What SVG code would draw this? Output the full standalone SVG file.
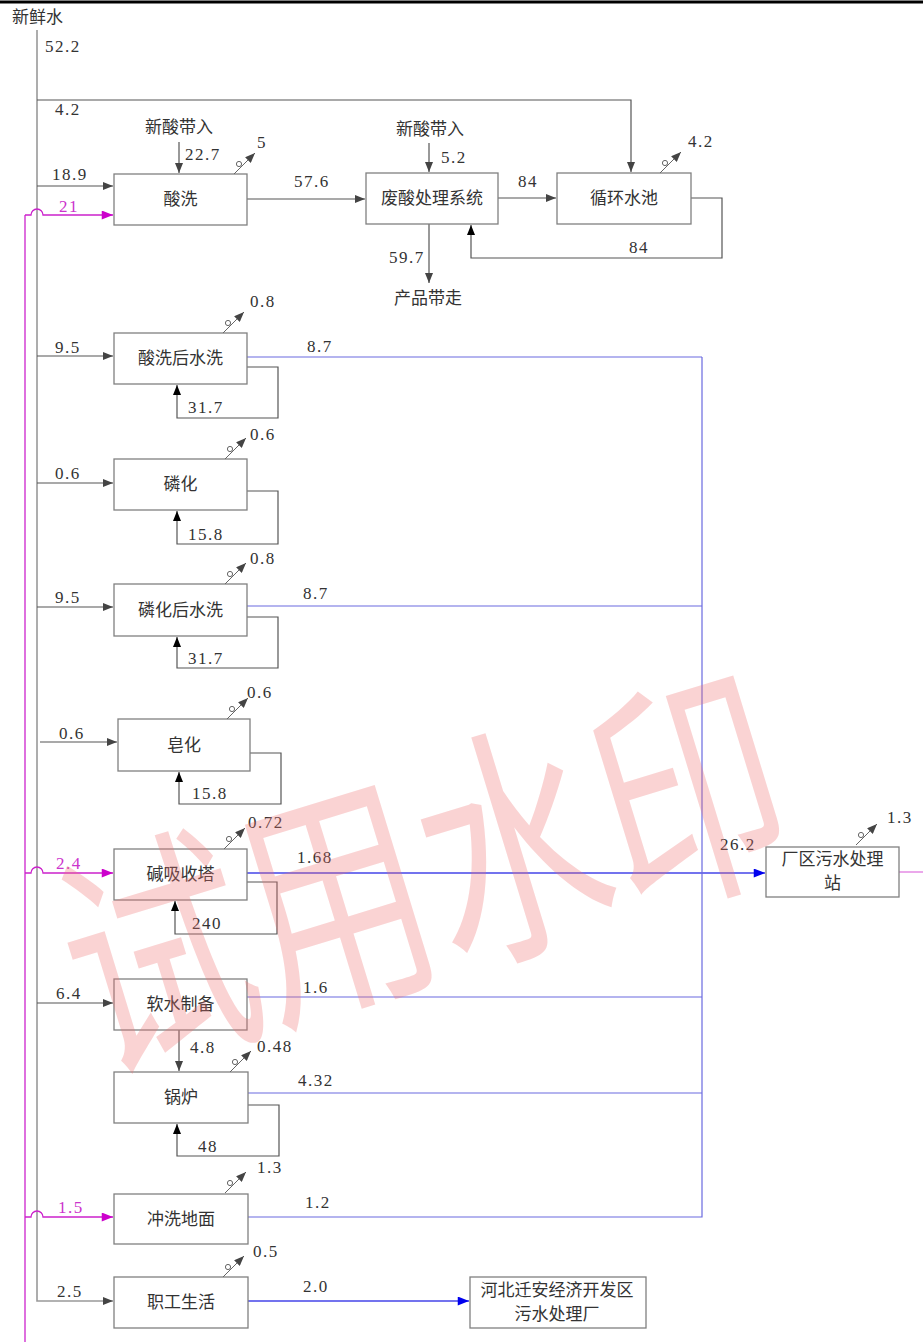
<svg xmlns="http://www.w3.org/2000/svg" width="923" height="1342" viewBox="0 0 923 1342">
<style>
.box{fill:none;stroke:#808080;stroke-width:1.3}
.ln{fill:none;stroke:#555;stroke-width:1.2}
.main{fill:none;stroke:#999;stroke-width:1.6}
.mg{fill:none;stroke:#cc22cc;stroke-width:1.3}
.bl{fill:none;stroke:#6a6ae0;stroke-width:1.2}
.bl2{fill:none;stroke:#4444e8;stroke-width:1.3}
.ev{fill:none;stroke:#666;stroke-width:1}
.cn{font-family:"Noto Sans CJK SC","Noto Sans CJK TC",sans-serif;font-size:17px;fill:#333}
.num{font-family:"Liberation Serif",serif;font-size:17px;letter-spacing:1.5px;fill:#333}
.nm{font-family:"Liberation Serif",serif;font-size:17px;letter-spacing:1.5px;fill:#cc33cc}
.wm{font-family:"Noto Sans CJK SC",sans-serif;font-size:185px;fill:#f07070;opacity:0.3}
</style>
<defs>
<marker id="ag" viewBox="0 0 10 8" refX="10" refY="4" markerWidth="11" markerHeight="8" markerUnits="userSpaceOnUse" orient="auto"><path d="M0,0 L10,4 L0,8 z" fill="#444"/></marker>
<marker id="ak" viewBox="0 0 10 8" refX="10" refY="4" markerWidth="11" markerHeight="8" markerUnits="userSpaceOnUse" orient="auto"><path d="M0,0 L10,4 L0,8 z" fill="#000"/></marker>
<marker id="am" viewBox="0 0 10 8" refX="10" refY="4" markerWidth="12" markerHeight="9" markerUnits="userSpaceOnUse" orient="auto"><path d="M0,0 L10,4 L0,8 z" fill="#cc00cc"/></marker>
<marker id="ab" viewBox="0 0 10 8" refX="10" refY="4" markerWidth="12" markerHeight="9" markerUnits="userSpaceOnUse" orient="auto"><path d="M0,0 L10,4 L0,8 z" fill="#0000ee"/></marker>
<g id="evap"><line class="ev" x1="0" y1="0" x2="21" y2="-21" marker-end="url(#ag)"/><circle class="ev" cx="5" cy="-10" r="2.6"/></g>
</defs>

<rect x="0" y="0" width="923" height="1342" fill="#fff"/>
<line x1="0" y1="2" x2="923" y2="2" stroke="#000" stroke-width="3"/>
<text class="cn" x="12" y="23">新鲜水</text>

<g id="connectors">
<path class="main" d="M37,30 V1301 H113" marker-end="url(#ag)"/>
<path class="mg" d="M25,1342 V215"/>
<path class="ln" d="M37,100 H631 V172" marker-end="url(#ag)"/>
<path class="ln" d="M37,186 H113" marker-end="url(#ag)"/>
<path class="mg" d="M25,215 H31 A6,6 0 0 1 43,215 H113" marker-end="url(#am)"/>
<path class="ln" d="M179,142 V173" marker-end="url(#ag)"/>
<path class="ln" d="M247,199 H365" marker-end="url(#ag)"/>
<path class="ln" d="M429,143 V172" marker-end="url(#ag)"/>
<path class="ln" d="M429,224 V283" marker-end="url(#ag)"/>
<path class="ln" d="M498,198 H556" marker-end="url(#ag)"/>
<path class="ln" d="M691,198 H722 V258 H471 V225" marker-end="url(#ak)"/>

<path class="ln" d="M37,356 H113" marker-end="url(#ag)"/>
<path class="bl" d="M247,357 H702"/>
<path class="ln" d="M247,367 H278 V418 H177 V385" marker-end="url(#ak)"/>

<path class="ln" d="M37,483 H113" marker-end="url(#ag)"/>
<path class="ln" d="M247,491 H278 V544 H177 V511" marker-end="url(#ak)"/>

<path class="ln" d="M37,607 H113" marker-end="url(#ag)"/>
<path class="bl" d="M247,606 H702"/>
<path class="ln" d="M247,617 H278 V668 H177 V637" marker-end="url(#ak)"/>

<path class="ln" d="M40,742 H117" marker-end="url(#ag)"/>
<path class="ln" d="M250,753 H281 V804 H179 V772" marker-end="url(#ak)"/>

<path class="mg" d="M25,873 H31 A6,6 0 0 1 43,873 H113" marker-end="url(#am)"/>
<path class="bl2" d="M247,873 H765" marker-end="url(#ab)"/>
<path class="ln" d="M247,882 H277 V934 H175 V901" marker-end="url(#ak)"/>
<path class="mg" d="M899,872 H923" stroke-opacity="0.6"/>

<path class="ln" d="M37,1003 H113" marker-end="url(#ag)"/>
<path class="bl" d="M247,997 H702"/>
<path class="ln" d="M179,1030 V1071" marker-end="url(#ag)"/>

<path class="bl" d="M248,1093 H702"/>
<path class="ln" d="M248,1105 H279 V1156 H177 V1124" marker-end="url(#ak)"/>

<path class="mg" d="M25,1217 H31 A6,6 0 0 1 43,1217 H113" marker-end="url(#am)"/>
<path class="bl" d="M248,1217 H702 V357"/>

<path class="bl2" d="M248,1301 H469" marker-end="url(#ab)"/>
</g>

<g id="n-suanxi"><rect class="box" x="114" y="174" width="133" height="51"/><text class="cn" x="180.5" y="205" text-anchor="middle">酸洗</text>
<use href="#evap" x="234" y="174"/><text class="num" x="257" y="148">5</text></g>
<g id="n-feisuan"><rect class="box" x="366" y="173" width="132" height="51"/><text class="cn" x="432" y="204" text-anchor="middle">废酸处理系统</text></g>
<g id="n-xunhuan"><rect class="box" x="557" y="173" width="134" height="51"/><text class="cn" x="624" y="204" text-anchor="middle">循环水池</text>
<use href="#evap" x="660" y="173"/><text class="num" x="688" y="147">4.2</text></g>
<g id="n-chanpin"><text class="cn" x="428" y="304" text-anchor="middle">产品带走</text></g>
<g id="n-xinsuan1"><text class="cn" x="179" y="133" text-anchor="middle">新酸带入</text></g>
<g id="n-xinsuan2"><text class="cn" x="430" y="135" text-anchor="middle">新酸带入</text></g>

<g id="n-suanxihou"><rect class="box" x="114" y="333" width="133" height="51"/><text class="cn" x="180.5" y="364" text-anchor="middle">酸洗后水洗</text>
<use href="#evap" x="223" y="333"/><text class="num" x="250" y="307">0.8</text></g>
<g id="n-linhua"><rect class="box" x="114" y="459" width="133" height="51"/><text class="cn" x="180.5" y="490" text-anchor="middle">磷化</text>
<use href="#evap" x="225" y="459"/><text class="num" x="250" y="440">0.6</text></g>
<g id="n-linhuahou"><rect class="box" x="114" y="584" width="133" height="52"/><text class="cn" x="180.5" y="616" text-anchor="middle">磷化后水洗</text>
<use href="#evap" x="225" y="584"/><text class="num" x="250" y="564">0.8</text></g>
<g id="n-zaohua"><rect class="box" x="118" y="719" width="132" height="52"/><text class="cn" x="184" y="751" text-anchor="middle">皂化</text>
<use href="#evap" x="227" y="719"/><text class="num" x="247" y="698">0.6</text></g>
<g id="n-jianxi"><rect class="box" x="114" y="849" width="133" height="51"/><text class="cn" x="180.5" y="880" text-anchor="middle">碱吸收塔</text>
<use href="#evap" x="224" y="849"/><text class="num" x="248" y="828">0.72</text></g>
<g id="n-changqu"><rect class="box" x="766" y="847" width="133" height="50"/><text class="cn" x="832.5" y="865" text-anchor="middle" font-size="16">厂区污水处理</text><text class="cn" x="832.5" y="889" text-anchor="middle" font-size="16">站</text>
<use href="#evap" x="856" y="845"/><text class="num" x="887" y="823">1.3</text></g>
<g id="n-ruanshui"><rect class="box" x="114" y="979" width="133" height="51"/><text class="cn" x="180.5" y="1010" text-anchor="middle">软水制备</text></g>
<g id="n-guolu"><rect class="box" x="114" y="1072" width="134" height="51"/><text class="cn" x="181" y="1103" text-anchor="middle">锅炉</text>
<use href="#evap" x="230" y="1072"/><text class="num" x="257" y="1052">0.48</text></g>
<g id="n-chongxi"><rect class="box" x="114" y="1194" width="134" height="50"/><text class="cn" x="181" y="1225" text-anchor="middle">冲洗地面</text>
<use href="#evap" x="225" y="1193"/><text class="num" x="257" y="1173">1.3</text></g>
<g id="n-zhigong"><rect class="box" x="114" y="1277" width="134" height="51"/><text class="cn" x="181" y="1308" text-anchor="middle">职工生活</text>
<use href="#evap" x="223" y="1277"/><text class="num" x="253" y="1257">0.5</text></g>
<g id="n-hebei"><rect class="box" x="470" y="1277" width="176" height="51"/><text class="cn" x="557" y="1296" text-anchor="middle" font-size="16">河北迁安经济开发区</text><text class="cn" x="557" y="1320" text-anchor="middle" font-size="16">污水处理厂</text></g>

<g id="labels">
<text class="num" x="45" y="52">52.2</text>
<text class="num" x="55" y="115">4.2</text>
<text class="num" x="52" y="180">18.9</text>
<text class="nm" x="59" y="212">21</text>
<text class="num" x="185" y="160">22.7</text>
<text class="num" x="294" y="187">57.6</text>
<text class="num" x="441" y="163">5.2</text>
<text class="num" x="389" y="263">59.7</text>
<text class="num" x="518" y="187">84</text>
<text class="num" x="629" y="253">84</text>
<text class="num" x="55" y="353">9.5</text>
<text class="num" x="307" y="352">8.7</text>
<text class="num" x="188" y="413">31.7</text>
<text class="num" x="55" y="479">0.6</text>
<text class="num" x="188" y="540">15.8</text>
<text class="num" x="55" y="603">9.5</text>
<text class="num" x="303" y="599">8.7</text>
<text class="num" x="188" y="664">31.7</text>
<text class="num" x="59" y="739">0.6</text>
<text class="num" x="192" y="799">15.8</text>
<text class="nm" x="56" y="869">2.4</text>
<text class="num" x="297" y="863">1.68</text>
<text class="num" x="192" y="929">240</text>
<text class="num" x="720" y="850">26.2</text>
<text class="num" x="56" y="999">6.4</text>
<text class="num" x="303" y="993">1.6</text>
<text class="num" x="190" y="1053">4.8</text>
<text class="num" x="298" y="1086">4.32</text>
<text class="num" x="198" y="1152">48</text>
<text class="nm" x="58" y="1213">1.5</text>
<text class="num" x="305" y="1208">1.2</text>
<text class="num" x="57" y="1297">2.5</text>
<text class="num" x="303" y="1292">2.0</text>
</g>

<text class="wm" transform="translate(97,1071) rotate(-17) scale(1,1.35)">试用水印</text>
</svg>
